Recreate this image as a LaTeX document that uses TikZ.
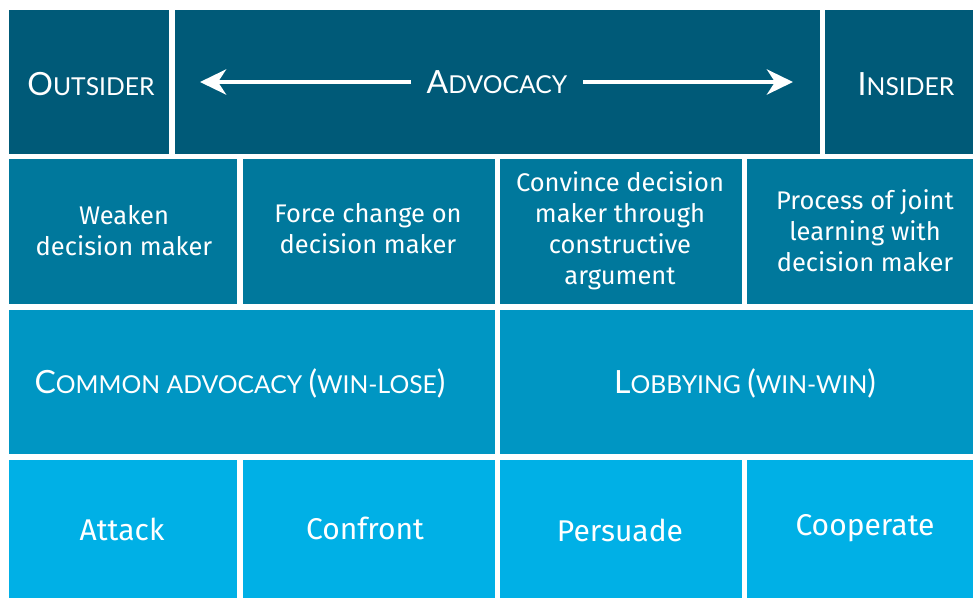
\documentclass[tikz,border=0pt]{standalone}
\usepackage{fontspec}
\setmainfont{Fira Sans}
\newfontfamily\headfont{Lato}
\usetikzlibrary{arrows.meta}
\definecolor{rowA}{RGB}{0,90,120}
\definecolor{rowB}{RGB}{0,120,156}
\definecolor{rowC}{RGB}{0,150,195}
\definecolor{rowD}{RGB}{0,176,230}
\newcommand\capbig[1]{{\fontsize{32}{33}\selectfont #1}}
\newcommand\capsmall[1]{{\fontsize{24.7}{33}\selectfont #1}}
\tikzset{
  midtext/.style={text=white, align=center, font=\fontsize{25.5}{31}\selectfont, inner sep=0pt},
  lowtext/.style={text=white, align=center, font=\fontsize{30}{32}\selectfont, inner sep=0pt},
  headtext/.style={text=white, inner sep=0pt, font=\headfont},
  bigarrow/.style={white, line width=4.5pt, -{Stealth[length=26pt, width=25pt, inset=8pt]}}
}
\begin{document}
\begin{tikzpicture}[x=1pt, y=-1pt]
\useasboundingbox (0,0) rectangle (973,598);
% row 1
\fill[rowA] (9,10) rectangle (169,154);
\fill[rowA] (175,10) rectangle (820,154);
\fill[rowA] (825,10) rectangle (973,154);
% row 2
\fill[rowB] (9,159) rectangle (237,304);
\fill[rowB] (243,159) rectangle (495,304);
\fill[rowB] (500,159) rectangle (742,304);
\fill[rowB] (747,159) rectangle (973,304);
% row 3
\fill[rowC] (9,310) rectangle (495,454);
\fill[rowC] (500,310) rectangle (973,454);
% row 4
\fill[rowD] (9,460) rectangle (237,598);
\fill[rowD] (243,460) rectangle (495,598);
\fill[rowD] (500,460) rectangle (742,598);
\fill[rowD] (747,460) rectangle (973,598);

% headings
\node[headtext] (outsider) at (91,84) {\capbig{O}\capsmall{UTSIDER}};
\node[headtext] (advocacy) at (497,82) {\capbig{A}\capsmall{DVOCACY}};
\node[headtext] (insider) at (906,84) {\capbig{I}\capsmall{NSIDER}};
\coordinate (lstart) at (411,82);
\coordinate (ltip) at (200,82);
\coordinate (rstart) at (583,82);
\coordinate (rtip) at (793,82);
\draw[bigarrow] (lstart) -- (ltip);
\draw[bigarrow] (rstart) -- (rtip);

% row 2 texts
\node[midtext] (weaken) at (124,231) {Weaken\\decision maker};
\node[midtext] (force) at (368,229) {Force change on\\decision maker};
\node[midtext] (convince) at (620,231) {Convince decision\\maker through\\constructive\\argument};
\node[midtext] (joint) at (865,231) {Process of joint\\learning with\\decision maker};

% row 3 texts
\node[headtext] (common) at (240,383) {\capbig{C}\capsmall{OMMON ADVOCACY }\capbig{(}\capsmall{WIN-LOSE}\capbig{)}};
\node[headtext] (lobby) at (745,383) {\capbig{L}\capsmall{OBBYING }\capbig{(}\capsmall{WIN-WIN}\capbig{)}};

% row 4 texts
\node[lowtext] (attack) at (122,529) {Attack};
\node[lowtext] (confront) at (365,528) {Confront};
\node[lowtext] (persuade) at (620,530) {Persuade};
\node[lowtext] (cooperate) at (865,528) {Cooperate};
\end{tikzpicture}
\end{document}
